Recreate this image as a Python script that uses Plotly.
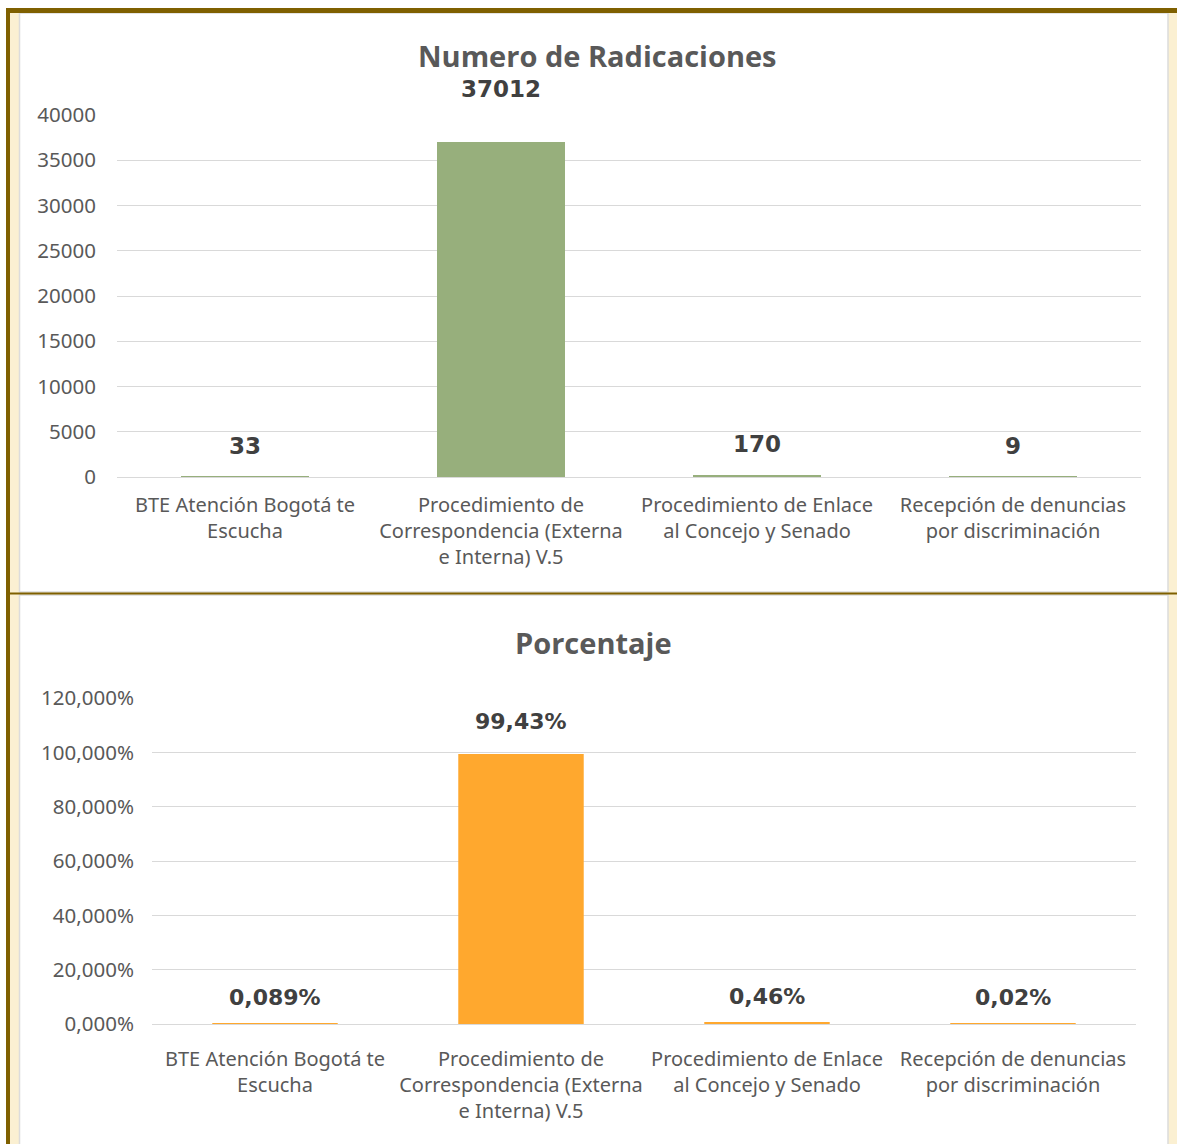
import plotly.graph_objects as go

W, H = 1177, 1144

categories = [
    "BTE Atención Bogotá te<br>Escucha",
    "Procedimiento de<br>Correspondencia (Externa<br>e Interna) V.5",
    "Procedimiento de Enlace<br>al Concejo y Senado",
    "Recepción de denuncias<br>por discriminación",
]
radicaciones = [33, 37012, 170, 9]
porcentaje = [0.089, 99.43, 0.46, 0.02]
porcentaje_labels = ["0,089%", "99,43%", "0,46%", "0,02%"]

rad_ticks = [0, 5000, 10000, 15000, 20000, 25000, 30000, 35000, 40000]
pct_ticks = [0, 20, 40, 60, 80, 100, 120]
pct_ticktext = ["0,000%", "20,000%", "40,000%", "60,000%", "80,000%", "100,000%", "120,000%"]

rad_label_shift = [31, 53, 31, 31]
pct_label_shift = [26, 32, 26, 26]


def px_x(p):
    return p / W


def px_y(p):
    return 1 - p / H


GRID = "#D9D9D9"
TXT = "#595959"
LBL = "#404040"
BROWN = "#7F6000"
CREAM = "#FBF0D2"

fig = go.Figure()

fig.add_trace(go.Bar(
    x=categories, y=radicaciones, xaxis="x", yaxis="y",
    width=0.5,
    marker=dict(color="#97AF7C", line=dict(width=0)),
    hoverinfo="skip",
))
fig.add_trace(go.Bar(
    x=categories, y=porcentaje, xaxis="x2", yaxis="y2",
    width=0.51,
    marker=dict(color="#FFA82E", line=dict(width=0)),
    hoverinfo="skip",
))

annotations = []
for c, v, s in zip(categories, radicaciones, rad_label_shift):
    annotations.append(dict(
        x=c, y=v, xref="x", yref="y", text=str(v), showarrow=False,
        yshift=s, font=dict(family="DejaVu Sans", size=23, color=LBL, weight="bold"),
    ))
for c, v, t, s in zip(categories, porcentaje, porcentaje_labels, pct_label_shift):
    annotations.append(dict(
        x=c, y=v, xref="x2", yref="y2", text=t, showarrow=False,
        yshift=s, font=dict(family="DejaVu Sans", size=22, color=LBL, weight="bold"),
    ))

annotations.append(dict(
    x=px_x(597), y=px_y(55), xref="paper", yref="paper", text="<b>Numero de Radicaciones</b>",
    showarrow=False, xanchor="center", yanchor="middle",
    font=dict(family="Open Sans", size=29, color=TXT),
))
annotations.append(dict(
    x=px_x(594), y=px_y(642), xref="paper", yref="paper", text="<b>Porcentaje</b>",
    showarrow=False, xanchor="center", yanchor="middle",
    font=dict(family="Open Sans", size=29, color=TXT),
))

shapes = [
    dict(type="rect", xref="paper", yref="paper", x0=px_x(10), x1=px_x(1177),
         y0=px_y(1144), y1=px_y(13), fillcolor=CREAM, line=dict(width=0), layer="below"),
    dict(type="rect", xref="paper", yref="paper", x0=px_x(19.5), x1=px_x(1168),
         y0=px_y(592), y1=px_y(13), fillcolor="white", line=dict(color="#DCDCDC", width=1.5), layer="below"),
    dict(type="rect", xref="paper", yref="paper", x0=px_x(19.5), x1=px_x(1168),
         y0=px_y(1160), y1=px_y(595), fillcolor="white", line=dict(color="#DCDCDC", width=1.5), layer="below"),
    dict(type="rect", xref="paper", yref="paper", x0=px_x(6), x1=px_x(1177),
         y0=px_y(13), y1=px_y(8), fillcolor=BROWN, line=dict(width=0), layer="below"),
    dict(type="rect", xref="paper", yref="paper", x0=px_x(6), x1=px_x(10),
         y0=px_y(1144), y1=px_y(8), fillcolor=BROWN, line=dict(width=0), layer="below"),
    dict(type="rect", xref="paper", yref="paper", x0=px_x(6), x1=px_x(1177),
         y0=px_y(594.5), y1=px_y(592.5), fillcolor=BROWN, line=dict(width=0), layer="below"),
]

xfont = dict(family="Noto Sans", size=20, color=TXT)
yfont = dict(family="Noto Sans", size=20.5, color=TXT)

fig.update_layout(
    template="none",
    width=W, height=H, autosize=False,
    margin=dict(l=0, r=0, t=0, b=0, pad=0),
    paper_bgcolor="white", plot_bgcolor="rgba(0,0,0,0)",
    showlegend=False, bargap=0.5,
    annotations=annotations, shapes=shapes,
    xaxis=dict(domain=[px_x(117), px_x(1141)], anchor="y", tickfont=xfont, automargin=False,
               showgrid=False, showline=False, zeroline=False, ticks="", ticklabelstandoff=14,
               fixedrange=True),
    yaxis=dict(domain=[px_y(477), px_y(115)], anchor="x", range=[0, 40000], automargin=False,
               tickvals=rad_ticks, ticktext=[str(t) for t in rad_ticks], tickfont=yfont,
               showgrid=True, gridcolor=GRID, gridwidth=1, zeroline=True, zerolinecolor=GRID,
               zerolinewidth=1, showline=False, ticks="", ticklabelstandoff=20, fixedrange=True),
    xaxis2=dict(domain=[px_x(152), px_x(1136)], anchor="y2", tickfont=xfont, automargin=False,
                showgrid=False, showline=False, zeroline=False, ticks="", ticklabelstandoff=21,
                fixedrange=True),
    yaxis2=dict(domain=[px_y(1024), px_y(698)], anchor="x2", range=[0, 120], automargin=False,
                tickvals=pct_ticks, ticktext=pct_ticktext, tickfont=yfont,
                showgrid=True, gridcolor=GRID, gridwidth=1, zeroline=True, zerolinecolor=GRID,
                zerolinewidth=1, showline=False, ticks="", ticklabelstandoff=17, fixedrange=True),
)

fig.write_html(
    "out.html",
    config={"displayModeBar": False},
    post_script="document.body.style.margin='0';document.body.style.overflow='hidden';",
)
